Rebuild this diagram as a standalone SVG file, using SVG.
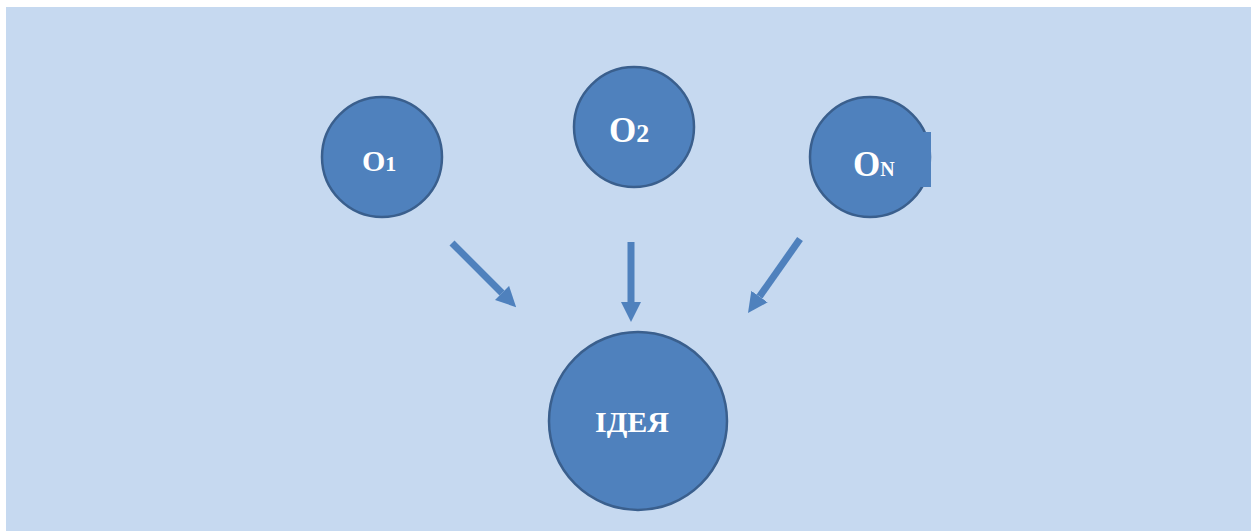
<svg xmlns="http://www.w3.org/2000/svg" width="1251" height="531" viewBox="0 0 1251 531">
  <style>
    .node { fill: #4f81bd; stroke: #3a5f8d; stroke-width: 2.5; }
    .label { font-family: "Liberation Serif", "Times New Roman", serif; font-weight: bold; fill: #ffffff; }
    .link { stroke: #4f81bd; stroke-width: 7; fill: none; marker-end: url(#head); }
  </style>
  <defs>
    <marker id="head" viewBox="0 0 20 20" markerWidth="20" markerHeight="20" markerUnits="userSpaceOnUse" refX="0" refY="10" orient="auto">
      <path d="M0,0 L20,10 L0,20 z" fill="#4f81bd"/>
    </marker>
  </defs>

  <rect x="0" y="0" width="1251" height="531" fill="#ffffff"/>
  <rect x="6" y="7" width="1245" height="524" fill="#c6d9f0"/>

  <g id="o1">
    <circle class="node" cx="382" cy="157" r="60"/>
    <text class="label" x="362" y="171"><tspan font-size="30">O</tspan><tspan font-size="22">1</tspan></text>
  </g>

  <g id="o2">
    <circle class="node" cx="634" cy="127" r="60"/>
    <text class="label" x="609" y="142"><tspan font-size="35">O</tspan><tspan font-size="26">2</tspan></text>
  </g>

  <g id="on">
    <circle class="node" cx="870" cy="157" r="60"/>
    <rect x="880" y="132" width="51" height="55" fill="#4f81bd"/>
    <text class="label" x="853" y="176"><tspan font-size="35">O</tspan><tspan font-size="20">N</tspan></text>
  </g>

  <g id="idea">
    <circle class="node" cx="638" cy="421" r="89"/>
    <text class="label" x="632" y="432" font-size="30" text-anchor="middle">ІДЕЯ</text>
  </g>

  <g id="connectors">
    <line class="link" x1="452" y1="243" x2="502" y2="293"/>
    <line class="link" x1="631" y1="242" x2="631" y2="302"/>
    <line class="link" x1="800" y1="239" x2="759.5" y2="296.6"/>
  </g>
</svg>
